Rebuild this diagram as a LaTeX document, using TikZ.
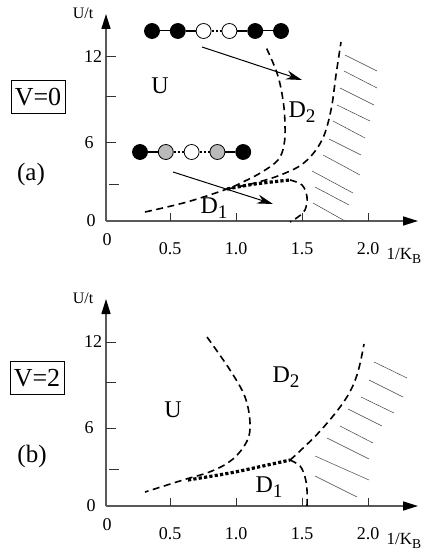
\documentclass[tikz,border=0pt]{standalone}
\usepackage{fontspec}
\setmainfont{Liberation Serif}
\usetikzlibrary{positioning, arrows.meta}

\newcommand{\lowidx}[1]{\raisebox{-0.5ex}{\scalebox{0.8}{#1}}}

\tikzset{
  siteB/.style={circle, draw, line width=0.8pt, minimum size=15pt, inner sep=0pt, fill=black},
  siteW/.style={siteB, fill=white},
  siteG/.style={siteB, fill=black!27},
  weak/.style={line width=1pt},
  strong/.style={line width=2.8pt},
  pair/.style={line width=2.6pt, dash pattern=on 2.4pt off 1.8pt},
  border/.style={line width=1.6pt, dash pattern=on 7pt off 4.5pt},
  dimer/.style={line width=3.2pt, dash pattern=on 3.2pt off 2.2pt},
  hatch/.style={line width=0.5pt, black!75},
  flow/.style={line width=1pt, -{Stealth[length=16pt,width=9pt]}},
  axis/.style={line width=1.6pt, black!65, -{Triangle[length=15pt,width=9pt,black]}},
  tick/.style={line width=1pt, black!80},
  num/.style={font=\fontsize{18}{18}\selectfont, inner sep=0pt},
  region/.style={font=\fontsize{24}{24}\selectfont, inner sep=0pt},
  tag/.style={font=\fontsize{25}{25}\selectfont, inner sep=0pt},
  vbox/.style={draw, line width=0.8pt, font=\fontsize{26}{26}\selectfont, inner sep=0pt,
    minimum width=54pt, minimum height=33pt}
}

\begin{document}
\begin{tikzpicture}[x=1pt, y=-1pt]
  \useasboundingbox (0,0) rectangle (436,556);

  \foreach \s/\p in {0/a, 285/b} {
    \coordinate (o\p) at (106,221+\s);
    \coordinate (x\p) at (418,221+\s);
    \coordinate (y\p) at (106,14+\s);
    \draw[axis] (o\p) -- (x\p);
    \draw[axis] (o\p) -- (y\p);
    \foreach \x/\l in {170/0.5, 236/1.0, 302/1.5, 368/2.0} {
      \draw[tick] (\x,221+\s) -- ++(0,-8);
      \node[num] (n\p\x) at (\x,249+\s) {\l};
    }
    \foreach \y in {57, 97, 143} {
      \draw[tick] (106,\y+\s) -- ++(10,0);
    }
    \draw[tick] (109,184+\s) -- ++(10,0);
    \node[num] (z\p) at (107,240+\s) {0};
    \node[num] (m\p12) at (93,57+\s) {12};
    \node[num] (m\p6) at (89,143+\s) {6};
    \node[num] (m\p0) at (91,221+\s) {0};
    \node[num, font=\fontsize{16}{16}\selectfont] (ut\p) at (83,13+\s) {U/t};
    \node[num, font=\fontsize{17}{17}\selectfont] (kb\p) at (404,256+\s) {1/K\lowidx{B}};
  }

  \node[vbox] (V0) at (38,97) {V=0};
  \node[vbox] (V2) at (37,378) {V=2};
  \node[tag] (pa) at (31,174) {(a)};
  \node[tag] (pb) at (32,456) {(b)};

  \node[region] (Ua) at (160,86) {U};
  \node[region] (D2a) at (302,112) {D\lowidx{2}};
  \node[region] (D1a) at (214,208) {D\lowidx{1}};
  \node[region] (Ub) at (173,410) {U};
  \node[region] (D2b) at (286,377) {D\lowidx{2}};
  \node[region] (D1b) at (269,487) {D\lowidx{1}};

  \node[siteB] (t1) at (152,31) {};
  \node[siteB, right=10pt of t1] (t2) {};
  \node[siteW, right=10pt of t2] (t3) {};
  \node[siteW, right=10pt of t3] (t4) {};
  \node[siteB, right=10pt of t4] (t5) {};
  \node[siteB, right=10pt of t5] (t6) {};
  \draw[weak] (t1) -- (t2);
  \draw[strong] (t2) -- (t3);
  \draw[pair] (t3) -- (t4);
  \draw[strong] (t4) -- (t5);
  \draw[weak] (t5) -- (t6);

  \node[siteB] (s1) at (140,152) {};
  \node[siteG, right=10pt of s1] (s2) {};
  \node[siteW, right=10pt of s2] (s3) {};
  \node[siteG, right=10pt of s3] (s4) {};
  \node[siteB, right=10pt of s4] (s5) {};
  \draw[strong] (s1) -- (s2);
  \draw[pair] (s2) -- (s3);
  \draw[pair] (s3) -- (s4);
  \draw[strong] (s4) -- (s5);

  \coordinate (fa1) at (202,47);
  \coordinate (fa2) at (302,80);
  \coordinate (fb1) at (173,172);
  \coordinate (fb2) at (273,204);
  \draw[flow] (fa1) -- (fa2);
  \draw[flow] (fb1) -- (fb2);

  \draw[border] plot[smooth, tension=0.6] coordinates {(145,212) (187,202) (227,189) (245,181)
    (262,172) (278,160) (284,145) (285,125) (283,100) (277,73) (265,45)};
  \draw[border] plot[smooth, tension=0.6] coordinates {(227,189) (255,183) (283,174) (305,162)
    (322,140) (331,110) (336,75) (341,42)};
  \draw[dimer] plot[smooth] coordinates {(227,189) (255,184) (290,180)};
  \draw[border] plot[smooth, tension=0.6] coordinates {(290,180) (302,185) (307,197) (305,210)
    (298,217) (290,222)};

  \draw[border] plot[smooth, tension=0.6] coordinates {(207,337) (230,370) (245,397) (250,423)
    (247,441) (233,459) (212,471) (183,480) (145,492)};
  \draw[dimer] plot[smooth] coordinates {(188,480) (230,473) (263,466) (290,460)};
  \draw[border] plot[smooth, tension=0.6] coordinates {(290,460) (300,451) (322,429) (345,400)
    (357,375) (364,344)};
  \draw[border] plot[smooth, tension=0.6] coordinates {(290,460) (300,466) (305,477) (307,490)
    (307,506)};

  \foreach \xa/\ya/\xb/\yb in {345/55/377/71, 344/71/377/88, 340/88/374/105, 337/105/370/121,
    333/121/365/138, 329/139/361/155, 323/155/360/175, 312/171/353/193, 315/187/349/205,
    313/203/345/221} {
    \draw[hatch] (\xa,\ya) -- (\xb,\yb);
  }
  \foreach \xa/\ya/\xb/\yb in {374/362/407/378, 369/380/403/397, 361/397/394/413, 348/409/382/426,
    340/426/373/443, 327/438/369/459, 315/456/369/480, 315/476/357/497} {
    \draw[hatch] (\xa,\ya) -- (\xb,\yb);
  }
\end{tikzpicture}
\end{document}
